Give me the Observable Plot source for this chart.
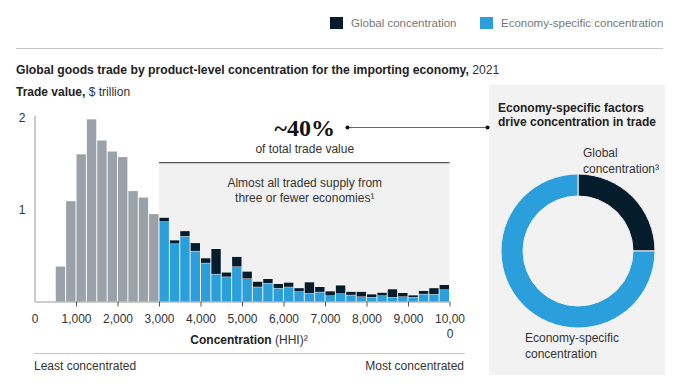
<!DOCTYPE html>
<html>
<head>
<meta charset="utf-8">
<script src="https://cdn.jsdelivr.net/npm/d3@7"></script>
<script src="https://cdn.jsdelivr.net/npm/@observablehq/plot@0.6"></script>
<style>
  html, body { margin: 0; padding: 0; background: #fff; }
  body { width: 680px; height: 387px; position: relative; overflow: hidden;
         font-family: "Liberation Sans", Arial, sans-serif; color: #222; }
  .abs { position: absolute; white-space: nowrap; }
  .sw { position: absolute; width: 13px; height: 12px; }
  .leg { font-size: 11.5px; color: #777; line-height: 14px; }
  .t12 { font-size: 12px; line-height: 14px; }
  b { font-weight: bold; }
  .n { color: #333; font-weight: normal; }
</style>
</head>
<body>
<div id="panel" class="abs" style="left:489px; top:85px; width:176px; height:290px; background:#f2f2f2;"></div>
<div id="legend"></div>
<div class="abs" style="left:16px; top:48px; width:647px; height:1px; background:#c4c4c4;"></div>
<div id="title" class="abs t12" style="left:16px; top:63px; font-size:12.2px;"><b>Global goods trade by product-level concentration for the importing economy,</b> <span class="n">2021</span></div>
<div id="ylab" class="abs t12" style="left:16px; top:85px;"><b>Trade value,</b> <span class="n">&#36; trillion</span></div>
<div id="hist" class="abs" style="left:0; top:100px;"></div>
<div id="xlab" class="abs t12" style="left:249px; top:333px; transform:translateX(-50%);"><b>Concentration</b> <span class="n">(HHI)²</span></div>
<div class="abs" style="left:34px; top:353px; width:431px; height:1px; background:#c4c4c4;"></div>
<div class="abs t12" style="left:34px; top:359px; color:#333;">Least concentrated</div>
<div class="abs t12" style="right:216px; top:359px; color:#333;">Most concentrated</div>
<div class="abs t12" style="left:498px; top:102px; line-height:13.5px;"><b>Economy-specific factors<br>drive concentration in trade</b></div>
<div class="abs t12" style="left:583px; top:145px; line-height:16px; color:#333;">Global<br>concentration³</div>
<div id="donut" class="abs" style="left:501px; top:174px;"></div>
<div class="abs t12" style="left:525px; top:331px; line-height:15.5px; color:#333;">Economy-specific<br>concentration</div>

<script>
// ---------- data ----------
const seriesNames = ["Global concentration", "Economy-specific concentration"];
const seriesColors = ["#051c2c", "#2a9fdb"];
const greyColor = "#9aa1a8";

// grey bins (HHI below 3,000): bin start values, $ trillion
const greyBinStarts = [500, 750, 1000, 1250, 1500, 1750, 2000, 2250, 2500, 2750];
const greyValues = [0.38, 1.09, 1.60, 1.98, 1.75, 1.63, 1.57, 1.20, 1.13, 0.95];

// concentrated bins (HHI 3,000 and above)
const concBinStarts = [3000, 3250, 3500, 3750, 4000, 4250, 4500, 4750, 5000, 5250,
  5500, 5750, 6000, 6250, 6500, 6750, 7000, 7250, 7500, 7750,
  8000, 8250, 8500, 8750, 9000, 9250, 9500, 9750];
const economyValues = [0.87, 0.63, 0.71, 0.55, 0.42, 0.30, 0.27, 0.38, 0.25, 0.16,
  0.20, 0.145, 0.16, 0.11, 0.09, 0.105, 0.065, 0.087, 0.072, 0.054,
  0.047, 0.065, 0.047, 0.054, 0.047, 0.083, 0.08, 0.13];
const globalValues = [0.045, 0.04, 0.06, 0.09, 0.055, 0.276, 0.05, 0.11, 0.08, 0.06,
  0.05, 0.051, 0.05, 0.04, 0.124, 0.058, 0.051, 0.093, 0.038, 0.056,
  0.036, 0.035, 0.091, 0.044, 0.025, 0.037, 0.07, 0.055];
const binWidth = 250;

const xTickValues = [0, 1000, 2000, 3000, 4000, 5000, 6000, 7000, 8000, 9000, 10000];
const yTickValues = [1, 2];

// donut shares (%)
const donutShares = [25, 75];

// ---------- legend ----------
const legend = document.getElementById("legend");
const legPos = [[330, 351], [480, 501]];
seriesNames.forEach((n, i) => {
  const s = document.createElement("div");
  s.className = "sw"; s.style.left = legPos[i][0] + "px"; s.style.top = "17px";
  s.style.background = seriesColors[i];
  legend.appendChild(s);
  const t = document.createElement("div");
  t.className = "abs leg"; t.style.left = legPos[i][1] + "px"; t.style.top = "16px";
  t.textContent = n;
  legend.appendChild(t);
});

// ---------- histogram ----------
const greyRows = greyBinStarts.map((x, i) => ({x1: x, x2: x + binWidth, y1: 0, y2: greyValues[i]}));
const stackRows = [];
concBinStarts.forEach((x, i) => {
  stackRows.push({x1: x, x2: x + binWidth, y1: 0, y2: economyValues[i], s: seriesNames[1]});
  stackRows.push({x1: x, x2: x + binWidth, y1: economyValues[i], y2: economyValues[i] + globalValues[i], s: seriesNames[0]});
});
const fmt = d3.format(",");

const hist = Plot.plot({
  width: 500, height: 287,
  marginLeft: 34.5, marginRight: 50.5, marginTop: 17.5, marginBottom: 85.5,
  style: {fontFamily: "Liberation Sans, Arial, sans-serif", fontSize: "12px", color: "#333", background: "transparent", overflow: "visible"},
  x: {domain: [0, 10000]},
  y: {domain: [0, 2]},
  color: {domain: seriesNames, range: seriesColors},
  marks: [
    Plot.rect([{x1: 3000, x2: 10000, y1: 0, y2: 1.516}], {x1: "x1", x2: "x2", y1: "y1", y2: "y2", fill: "#f1f1f1"}),
    Plot.ruleY([1.516], {x1: 3000, x2: 10000, stroke: "#555", strokeWidth: 1.2}),
    Plot.ruleY([0], {x1: 0, x2: 10000, stroke: "#9a9a9a"}),
    Plot.ruleX([0], {y1: 0, y2: 2.02, stroke: "#9a9a9a"}),
    Plot.rect(greyRows, {x1: "x1", x2: "x2", y1: "y1", y2: "y2", fill: greyColor, insetLeft: 0.5, insetRight: 0.5}),
    Plot.rect(stackRows, {x1: "x1", x2: "x2", y1: "y1", y2: "y2", fill: "s", insetLeft: 0.5, insetRight: 0.5, insetTop: 0.5}),
    Plot.axisX({ticks: xTickValues.filter(d => d > 0), tickSize: 5, stroke: "#555", tickFormat: () => "", label: null}),
    Plot.axisX({ticks: xTickValues, tickSize: 0, tickPadding: 10, fill: "#333", fontSize: 12, lineHeight: 1.25,
      tickFormat: d => d === 10000 ? "10,00\n0" : fmt(d), label: null}),
    Plot.axisY({ticks: yTickValues, tickSize: 0, tickPadding: 9.5, fill: "#333", fontSize: 12, tickFormat: d => String(d), label: null}),
    Plot.text(["~40%"], {x: 6500, y: 1.885, fontFamily: "Liberation Serif, Times New Roman, serif", fontWeight: "bold", fontSize: 24, fill: "#111"}),
    Plot.text(["of total trade value"], {x: 6500, y: 1.665, fontSize: 12, fill: "#333"}),
    Plot.text(["Almost all traded supply from\nthree or fewer economies¹"], {x: 6500, y: 1.217, fontSize: 12, lineHeight: 1.25, fill: "#333"}),
    Plot.ruleY([1.897], {x1: 7530, x2: 10904, stroke: "#666", strokeWidth: 1.2}),
    Plot.dot([7530, 10904], {x: d => d, y: 1.897, r: 2, fill: "#111", stroke: null})
  ]
});
document.getElementById("hist").appendChild(hist);

// ---------- donut ----------
const colorScale = Plot.scale({color: {domain: seriesNames, range: seriesColors}});
const donutData = seriesNames.map((n, i) => ({name: n, value: donutShares[i]}));
const donut = Plot.plot({
  width: 154, height: 154, margin: 0,
  style: {background: "transparent", overflow: "visible"},
  x: {domain: [-1, 1], axis: null},
  y: {domain: [-1, 1], axis: null},
  marks: [
    Plot.dot([[-1, -1], [1, 1]], {x: d => d[0], y: d => d[1], r: 0, stroke: null}),
    (index, scales) => {
      const cx = scales.x(0), cy = scales.y(0);
      const R = scales.x(1) - scales.x(0);
      const arc = d3.arc().innerRadius(R * 55 / 77).outerRadius(R);
      const pie = d3.pie().sort(null).value(d => d.value);
      const g = d3.create("svg:g").attr("transform", `translate(${cx},${cy})`);
      g.selectAll("path").data(pie(donutData)).join("path")
        .attr("d", arc)
        .attr("fill", d => colorScale.apply(d.data.name))
        .attr("stroke", "#f2f2f2").attr("stroke-width", 1);
      return g.node();
    }
  ]
});
document.getElementById("donut").appendChild(donut);
</script>
</body>
</html>
